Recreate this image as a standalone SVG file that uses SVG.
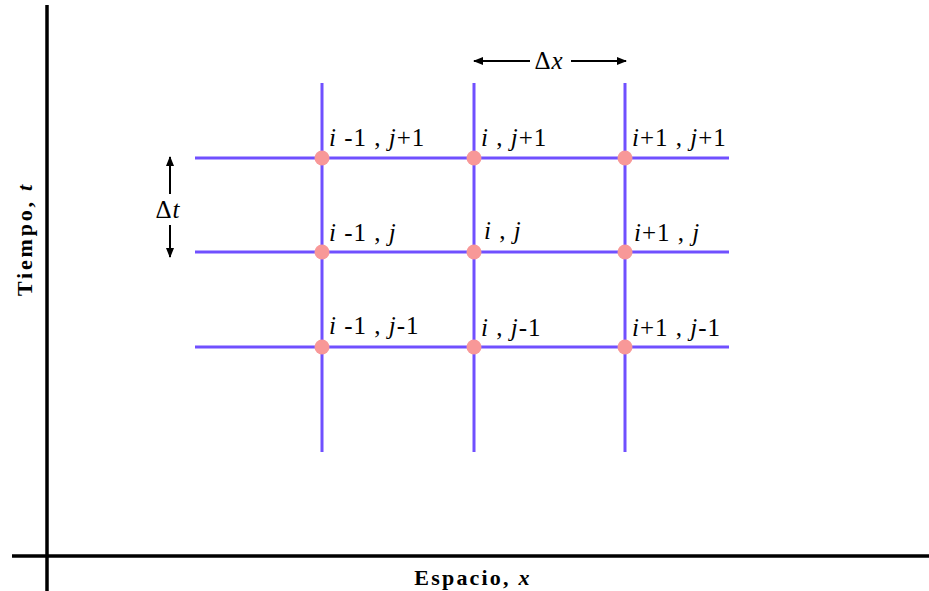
<svg xmlns="http://www.w3.org/2000/svg" width="929" height="591" viewBox="0 0 929 591">
<style>
.axis{stroke:#000;stroke-width:3.5;fill:none}
.grid{stroke:#7050ff;stroke-width:3;fill:none}
.dot{fill:#f89898}
.lbl{font-family:'Liberation Serif',serif;font-size:25px;fill:#000;letter-spacing:1px}
.it{font-style:italic}
.ax{font-family:'Liberation Serif',serif;font-size:22px;font-weight:bold;fill:#000;letter-spacing:2.2px}
.dim{stroke:#000;stroke-width:2;fill:none}
</style>
<defs>
<marker id="ah" viewBox="0 0 10 10" refX="9" refY="5" markerWidth="5" markerHeight="5" orient="auto-start-reverse">
<path d="M0,1 L10,5 L0,9 Z" fill="#000"/>
</marker>
</defs>
<g id="axes">
<line class="axis" x1="47" y1="5" x2="47" y2="591"/>
<line class="axis" x1="12" y1="556" x2="929" y2="556"/>
<text class="ax" transform="translate(32,239) rotate(-90)" text-anchor="middle" style="letter-spacing:2.8px">Tiempo, <tspan class="it">t</tspan></text>
<text class="ax" x="473" y="585" text-anchor="middle">Espacio, <tspan class="it">x</tspan></text>
</g>
<g id="connectors">
<line class="grid" x1="322" y1="83" x2="322" y2="452"/>
<line class="grid" x1="474" y1="83" x2="474" y2="452"/>
<line class="grid" x1="625" y1="83" x2="625" y2="452"/>
<line class="grid" x1="195" y1="158" x2="729" y2="158"/>
<line class="grid" x1="195" y1="252" x2="729" y2="252"/>
<line class="grid" x1="195" y1="347" x2="729" y2="347"/>
<line class="dim" x1="530" y1="61" x2="474" y2="61" marker-end="url(#ah)"/>
<line class="dim" x1="571" y1="61" x2="626" y2="61" marker-end="url(#ah)"/>
<line class="dim" x1="170" y1="194" x2="170" y2="157" marker-end="url(#ah)"/>
<line class="dim" x1="170" y1="225" x2="170" y2="257" marker-end="url(#ah)"/>
<text class="lbl" x="549" y="69" text-anchor="middle">Δ<tspan class="it">x</tspan></text>
<text class="lbl" x="168" y="218" text-anchor="middle">Δ<tspan class="it">t</tspan></text>
</g>
<g id="n-i-1-j+1"><circle class="dot" cx="322" cy="158" r="7.5"/><text class="lbl" x="329" y="146"><tspan class="it">i</tspan> -1 , <tspan class="it">j</tspan>+1</text></g>
<g id="n-i-j+1"><circle class="dot" cx="474" cy="158" r="7.5"/><text class="lbl" x="481" y="146"><tspan class="it">i</tspan> , <tspan class="it">j</tspan>+1</text></g>
<g id="n-i+1-j+1"><circle class="dot" cx="625" cy="158" r="7.5"/><text class="lbl" x="632" y="146"><tspan class="it">i</tspan>+1 , <tspan class="it">j</tspan>+1</text></g>
<g id="n-i-1-j"><circle class="dot" cx="322" cy="252" r="7.5"/><text class="lbl" x="329" y="241"><tspan class="it">i</tspan> -1 , <tspan class="it">j</tspan></text></g>
<g id="n-i-j"><circle class="dot" cx="474" cy="252" r="7.5"/><text class="lbl" x="484" y="239"><tspan class="it">i</tspan> , <tspan class="it">j</tspan></text></g>
<g id="n-i+1-j"><circle class="dot" cx="625" cy="252" r="7.5"/><text class="lbl" x="634" y="241"><tspan class="it">i</tspan>+1 , <tspan class="it">j</tspan></text></g>
<g id="n-i-1-j-1"><circle class="dot" cx="322" cy="347" r="7.5"/><text class="lbl" x="329" y="334"><tspan class="it">i</tspan> -1 , <tspan class="it">j</tspan>-1</text></g>
<g id="n-i-j-1"><circle class="dot" cx="474" cy="347" r="7.5"/><text class="lbl" x="481" y="336"><tspan class="it">i</tspan> , <tspan class="it">j</tspan>-1</text></g>
<g id="n-i+1-j-1"><circle class="dot" cx="625" cy="347" r="7.5"/><text class="lbl" x="632" y="336"><tspan class="it">i</tspan>+1 , <tspan class="it">j</tspan>-1</text></g>
</svg>
